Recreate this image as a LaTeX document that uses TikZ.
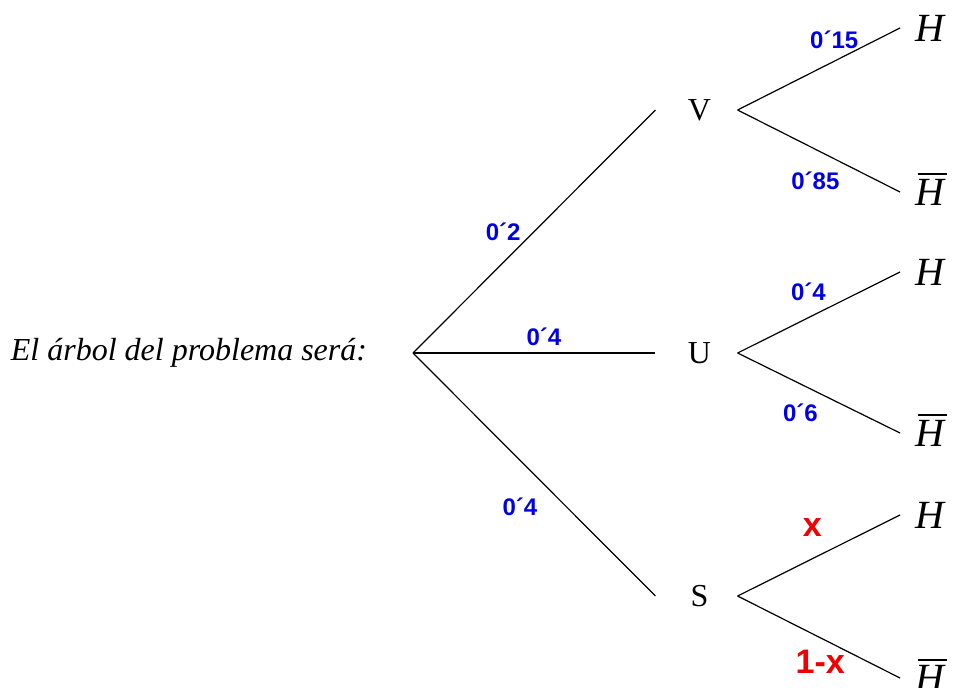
\documentclass[tikz,border=0pt]{standalone}
\usepackage{fontspec}
\setmainfont{Liberation Serif}
\setsansfont{Liberation Sans}
\usepackage{xcolor}
\usetikzlibrary{positioning}
\definecolor{ProbBlue}{HTML}{0000E6}
\definecolor{ProbRed}{HTML}{F00000}
\newcommand{\notH}{\textit{H}\llap{\rule[31pt]{29pt}{1.3pt}\hspace{-1pt}}}

\begin{document}
\begin{tikzpicture}[x=1pt,y=-1pt,line width=1.2pt,
    state/.style={font=\fontsize{32}{32}\selectfont,inner sep=0pt,minimum width=81pt},
    leaf/.style={font=\fontsize{40}{40}\selectfont,anchor=west,inner xsep=15pt,
                 inner ysep=0pt,text height=27pt,text depth=0pt},
    prob/.style={font=\sffamily\bfseries\fontsize{24}{24}\selectfont,text=ProbBlue,inner sep=0pt},
    unk/.style={font=\sffamily\bfseries\fontsize{34}{34}\selectfont,text=ProbRed,inner sep=0pt}]
  \useasboundingbox (0,0) rectangle (956,688);
  % root and first level
  \node[font=\itshape\fontsize{32}{32}\selectfont] (intro) at (189,353) {El árbol del problema será:};
  \coordinate (root) at (413,353);
  \node[state] (V) at (696.5,110) {\hspace{6pt}V};
  \node[state] (U) at (696.5,353) {\hspace{6pt}U};
  \node[state] (S) at (696.5,596) {\hspace{6pt}S};
  % leaves
  \node[leaf] (VH)  at (900,28)  {\textit{H}};
  \node[leaf] (VHn) at (900,192) {\notH};
  \node[leaf] (UH)  at (900,272) {\textit{H}};
  \node[leaf] (UHn) at (900,433) {\notH};
  \node[leaf] (SH)  at (900,515) {\textit{H}};
  \node[leaf] (SHn) at (900,678) {\notH};
  % branches
  \draw (root) -- node[prob,pos=0.5,xshift=-31pt] (pV) {0´2} (V.west);
  \draw (root) -- node[prob,pos=0.54,yshift=16pt] (pU) {0´4} (U.west);
  \draw (root) -- node[prob,pos=0.635,xshift=-47pt] (pS) {0´4} (S.west);
  \draw (V.east) -- node[prob,pos=0.595,yshift=21pt] (pVH) {0´15} (VH.west);
  \draw (V.east) -- node[prob,pos=0.479,yshift=-32pt] (pVHn) {0´85} (VHn.west);
  \draw (U.east) -- node[prob,pos=0.436,yshift=26pt] (pUH) {0´4} (UH.west);
  \draw (U.east) -- node[prob,pos=0.387,yshift=-29pt] (pUHn) {0´6} (UHn.west);
  \draw (S.east) -- node[unk,pos=0.46,yshift=31pt] (pSH) {x} (SH.west);
  \draw (S.east) -- node[unk,pos=0.509,yshift=-24pt] (pSHn) {1-x} (SHn.west);
\end{tikzpicture}
\end{document}
